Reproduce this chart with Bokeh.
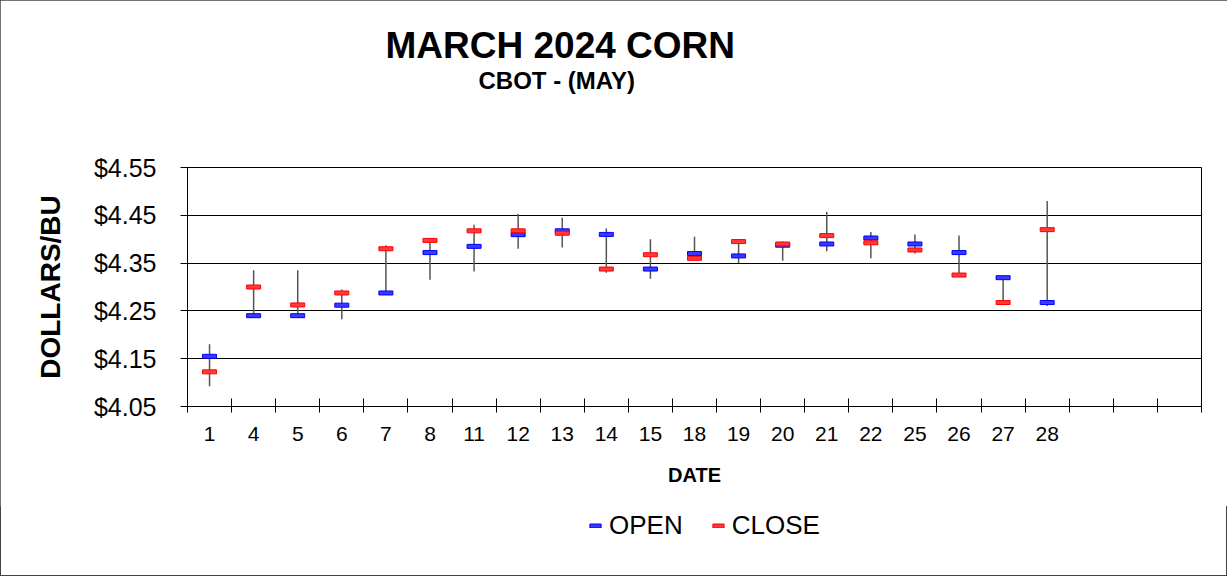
from bokeh.plotting import figure
from bokeh.layouts import column
from bokeh.models import (Range1d, FixedTicker, NumeralTickFormatter, CustomJSTickFormatter,
                          Title, Legend, LegendItem, ColumnDataSource)
from bokeh.embed import file_html
from bokeh.resources import INLINE

# ---- data ----
dates = ["1", "4", "5", "6", "7", "8", "11", "12", "13", "14",
         "15", "18", "19", "20", "21", "22", "25", "26", "27", "28"]
open_price = [4.155, 4.240, 4.240, 4.262, 4.2875, 4.372, 4.385, 4.4095, 4.4175, 4.410,
              4.3375, 4.370, 4.365, 4.3875, 4.390, 4.4025, 4.390, 4.372, 4.3195, 4.2675]
close_price = [4.1225, 4.300, 4.2625, 4.2875, 4.380, 4.3975, 4.4175, 4.4175, 4.4125, 4.3375,
               4.3675, 4.360, 4.395, 4.390, 4.4075, 4.3925, 4.3775, 4.325, 4.2675, 4.420]
high_price = [4.180, 4.335, 4.335, 4.295, 4.3875, 4.3975, 4.430, 4.4525, 4.445, 4.4225,
              4.400, 4.405, 4.400, 4.395, 4.4575, 4.415, 4.410, 4.4075, 4.3195, 4.480]
low_price = [4.0925, 4.240, 4.240, 4.2325, 4.2875, 4.315, 4.3325, 4.380, 4.3825, 4.330,
             4.3175, 4.360, 4.350, 4.355, 4.375, 4.360, 4.370, 4.325, 4.2625, 4.260]
y_ticks = [4.05, 4.15, 4.25, 4.35, 4.45, 4.55]
series_names = ["OPEN", "CLOSE"]
n_slots = 23  # category slots on the x axis (last three are empty)

FONT = "Liberation Sans"
OPEN_FILL, OPEN_LINE = "#3a3aff", "blue"
CLOSE_FILL, CLOSE_LINE = "#ff3a3a", "red"

xs = [i + 0.5 for i in range(len(dates))]
src = ColumnDataSource(dict(x=xs, date=dates, open=open_price, close=close_price,
                            high=high_price, low=low_price))

p = figure(frame_width=1014, frame_height=239, output_backend="svg", toolbar_location=None,
           x_range=Range1d(0, n_slots), y_range=Range1d(y_ticks[0], y_ticks[-1]),
           min_border_left=187, min_border_right=26, min_border_top=167,
           min_border_bottom=100, title=None)
p.background_fill_color = "white"
p.border_fill_color = "white"
p.outline_line_color = "black"
p.outline_line_width = 1

# x axis
xa = p.xaxis[0]
xa.ticker = FixedTicker(ticks=xs, minor_ticks=list(range(0, n_slots + 1)))
xa.formatter = CustomJSTickFormatter(args=dict(labels=dates), code="return labels[index];")
xa.major_tick_line_color = None
xa.major_tick_in = 0
xa.major_tick_out = 6
xa.minor_tick_line_color = "black"
xa.minor_tick_in = 8
xa.minor_tick_out = 6
xa.axis_line_color = "black"
xa.major_label_text_font = FONT
xa.major_label_text_font_size = "21px"
xa.major_label_text_color = "black"
xa.major_label_standoff = 14
xa.axis_label = "DATE"
xa.axis_label_text_font = FONT
xa.axis_label_text_font_size = "20px"
xa.axis_label_text_font_style = "bold"
xa.axis_label_text_color = "black"
xa.axis_label_standoff = 20

# y axis
ya = p.yaxis[0]
ya.ticker = FixedTicker(ticks=y_ticks, minor_ticks=[])
ya.formatter = NumeralTickFormatter(format="$0.00")
ya.major_tick_in = 0
ya.major_tick_out = 7
ya.major_tick_line_color = "black"
ya.minor_tick_line_color = None
ya.axis_line_color = "black"
ya.major_label_text_font = FONT
ya.major_label_text_font_size = "25px"
ya.major_label_text_color = "black"
ya.major_label_standoff = 24
ya.axis_label = "DOLLARS/BU"
ya.axis_label_text_font = FONT
ya.axis_label_text_font_size = "28px"
ya.axis_label_text_font_style = "bold"
ya.axis_label_text_color = "black"
ya.axis_label_standoff = 25

p.xgrid.visible = False
p.ygrid.ticker = FixedTicker(ticks=y_ticks)
p.ygrid.grid_line_color = "black"
p.ygrid.grid_line_width = 1

# glyphs
p.segment(x0="x", y0="low", x1="x", y1="high", source=src,
          line_color="#555555", line_width=1.5)
p.rect(x="x", y="open", width=14, height=4, width_units="screen",
       height_units="screen", fill_color=OPEN_FILL, line_color=OPEN_LINE,
       line_width=1, source=src)
p.rect(x="x", y="close", width=14, height=4, width_units="screen",
       height_units="screen", fill_color=CLOSE_FILL, line_color=CLOSE_LINE,
       line_width=1, source=src)

# titles (added from the frame outward)
p.add_layout(Title(text=" ", text_font_size="51px"), "above")
p.add_layout(Title(text="CBOT - (MAY)", align="left", offset=291, text_font=FONT,
                   text_font_size="24px", text_font_style="bold", text_color="black"), "above")
p.add_layout(Title(text="MARCH 2024 CORN", align="left", offset=198, standoff=-12, text_font=FONT,
                   text_font_size="37px", text_font_style="bold", text_color="black"), "above")

# legend strip below the chart (its ranges keep the series out of view; only the key shows)
p2 = figure(width=1227, height=70, output_backend="svg", toolbar_location=None,
            x_range=Range1d(0, 1), y_range=Range1d(0, 1), x_axis_type=None, y_axis_type=None,
            min_border_left=0, min_border_right=0, min_border_top=0, min_border_bottom=0)
p2.outline_line_color = None
p2.background_fill_alpha = 0
p2.border_fill_alpha = 0
l_open = p2.rect(x="x", y="open", width=14, height=4, width_units="screen",
                 height_units="screen", fill_color=OPEN_FILL, line_color=OPEN_LINE,
                 line_width=1, source=src)
l_close = p2.rect(x="x", y="close", width=14, height=4, width_units="screen",
                  height_units="screen", fill_color=CLOSE_FILL, line_color=CLOSE_LINE,
                  line_width=1, source=src)
legend = Legend(items=[LegendItem(label=series_names[0], renderers=[l_open]),
                       LegendItem(label=series_names[1], renderers=[l_close])],
                orientation="horizontal", location=(401, 35),
                label_text_font=FONT, label_text_font_size="26px", label_text_color="black",
                glyph_width=14, glyph_height=5, label_standoff=7, spacing=28,
                border_line_color=None, background_fill_alpha=0, padding=4, margin=0)
p2.add_layout(legend, "center")

layout = column(p, p2, spacing=0)
layout.styles = {"outline": "1px solid #444444", "outline-offset": "-1px"}

open("out.html", "w").write(file_html(layout, INLINE))
